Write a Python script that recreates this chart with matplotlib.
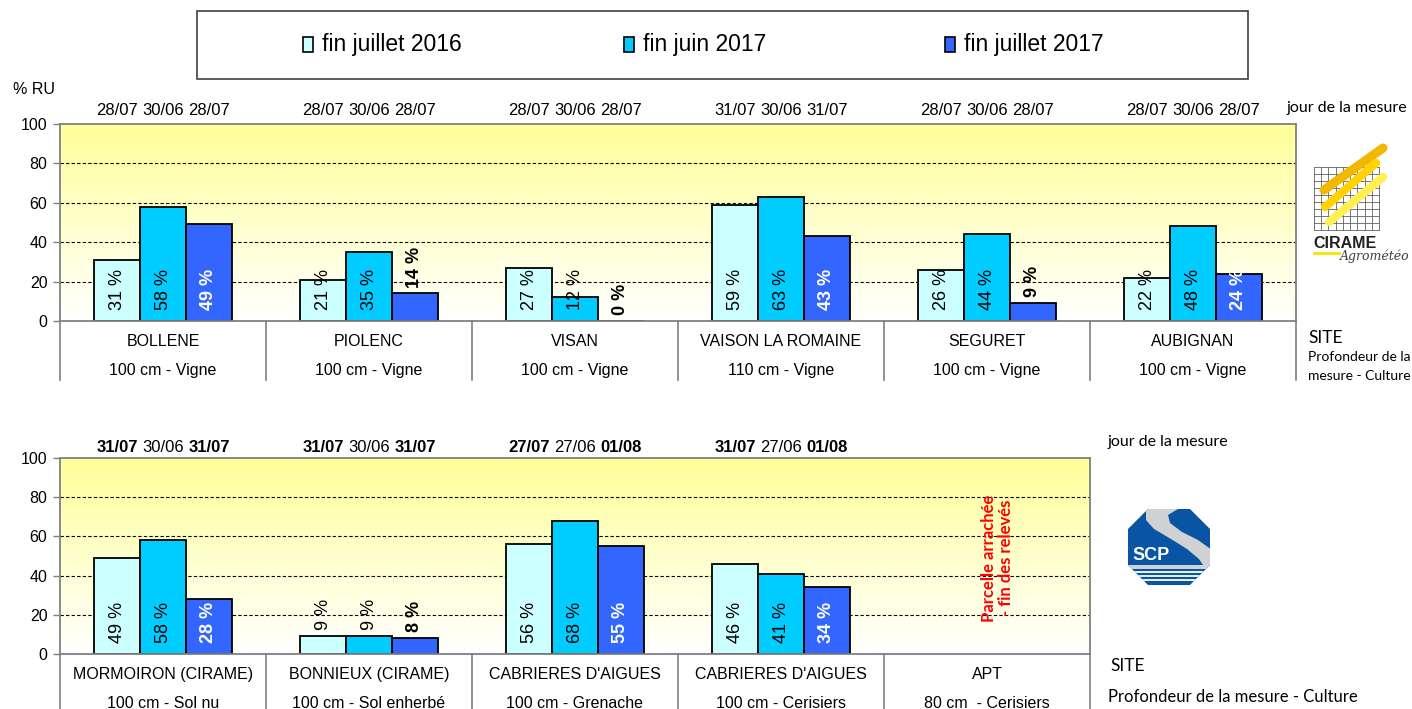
import matplotlib.pyplot as plt
import numpy as np
from matplotlib.patches import Rectangle, Polygon

# donnees - % de la reserve utile
series_labels = ['fin juillet 2016', 'fin juin 2017', 'fin juillet 2017']
series_colors = ['#CCFFFF', '#00CCFF', '#3366FF']

top_sites = ['BOLLENE', 'PIOLENC', 'VISAN', 'VAISON LA ROMAINE', 'SEGURET', 'AUBIGNAN']
top_depths = ['100 cm - Vigne', '100 cm - Vigne', '100 cm - Vigne',
              '110 cm - Vigne', '100 cm - Vigne', '100 cm - Vigne']
top_dates = [['28/07', '30/06', '28/07'], ['28/07', '30/06', '28/07'],
             ['28/07', '30/06', '28/07'], ['31/07', '30/06', '31/07'],
             ['28/07', '30/06', '28/07'], ['28/07', '30/06', '28/07']]
top_jul16 = [31, 21, 27, 59, 26, 22]
top_jun17 = [58, 35, 12, 63, 44, 48]
top_jul17 = [49, 14, 0, 43, 9, 24]

bot_sites = ['MORMOIRON (CIRAME)', 'BONNIEUX (CIRAME)', "CABRIERES D'AIGUES",
             "CABRIERES D'AIGUES", 'APT']
bot_depths = ['100 cm - Sol nu', '100 cm - Sol enherbé', '100 cm - Grenache',
              '100 cm - Cerisiers', '80 cm  - Cerisiers']
bot_dates = [['31/07', '30/06', '31/07'], ['31/07', '30/06', '31/07'],
             ['27/07', '27/06', '01/08'], ['31/07', '27/06', '01/08'],
             ['', '', '']]
bot_jul16 = [49, 9, 56, 46, np.nan]
bot_jun17 = [58, 9, 68, 41, np.nan]
bot_jul17 = [28, 8, 55, 34, np.nan]

W, H = 1412, 709
plt.rcParams['font.family'] = ['Liberation Sans', 'DejaVu Sans']
fig = plt.figure(figsize=(W / 100, H / 100), dpi=100)


def fx(px):
    return px / W


def fy(py):
    return 1 - py / H


def draw_panel(ax, sites, depths, dates, values, bold_dates, table_bottom):
    n = len(sites)
    x = np.arange(n)
    width = 0.223
    ax.set_xlim(-0.5, n - 0.5)
    ax.set_ylim(0, 100)

    # fond degrade jaune -> blanc
    grad = np.ones((256, 1, 3))
    grad[:, 0, 2] = np.linspace(0.6, 1.0, 256)
    ax.imshow(grad, extent=(-0.5, n - 0.5, 0, 100), aspect='auto',
              origin='upper', zorder=0)

    for yv in [20, 40, 60, 80]:
        ax.axhline(yv, color='black', lw=0.8, ls=(0, (3, 2)), zorder=1)

    for k, vals in enumerate(values):
        xs = x + (k - 1) * width
        ax.bar(xs, vals, width, color=series_colors[k], edgecolor='black',
               linewidth=1.3, zorder=2)
        for xi, v in zip(xs, vals):
            if np.isnan(v):
                continue
            dark = (k == 2)
            above = v < 10 or (dark and v < 20)
            if above:
                ypos = v + 3
                col = 'black'
            else:
                ypos = 5.5
                col = 'white' if dark else 'black'
            ax.text(xi, ypos, '%d %%' % v, rotation=90, ha='center', va='bottom',
                    fontsize=13, color=col,
                    fontweight='bold' if dark else 'normal', zorder=3)

    # dates de mesure au-dessus des barres
    for i in range(n):
        for k in range(3):
            ax.text(x[i] + (k - 1) * width, 100 + bold_dates[1], dates[i][k],
                    ha='center', va='center', fontsize=12,
                    fontweight='bold' if (bold_dates[0] and k != 1) else 'normal',
                    clip_on=False)

    # tableau des sites sous l'axe
    for b in np.arange(n + 1) - 0.5:
        ax.plot([b, b], [0, table_bottom], color='#808080', lw=1.2,
                clip_on=False, zorder=1)
    for i in range(n):
        ax.text(x[i], -10.5, sites[i], ha='center', va='center', fontsize=11.5,
                clip_on=False)
        ax.text(x[i], -25, depths[i], ha='center', va='center', fontsize=11.5,
                clip_on=False)

    ax.set_xticks([])
    ax.set_yticks([0, 20, 40, 60, 80, 100])
    ax.tick_params(axis='y', length=5, width=1, color='#808080', labelsize=11.5,
                   pad=4)
    for s in ax.spines.values():
        s.set_color('#808080')
        s.set_linewidth(1.3)


ax1 = fig.add_axes([fx(60), fy(321), fx(1296 - 60), (321 - 124) / H])
draw_panel(ax1, top_sites, top_depths, top_dates,
           [top_jul16, top_jun17, top_jul17], (False, 7), -30)

ax2 = fig.add_axes([fx(60), fy(654), fx(1090 - 60), (654 - 458) / H])
draw_panel(ax2, bot_sites, bot_depths, bot_dates,
           [bot_jul16, bot_jun17, bot_jul17], (True, 5.5), -30)
ax2.text(4.05, 49, 'Parcelle arrachée\n- fin des relevés', rotation=90,
         ha='center', va='center', multialignment='center', color='red',
         fontsize=12, fontweight='bold', family=['Lato', 'DejaVu Sans'],
         linespacing=1.05, zorder=3)

# textes autour des graphes
fig.text(fx(13), fy(89), '% RU', ha='left', va='center', fontsize=11.5)
cal = ['Lato', 'DejaVu Sans']
fig.text(fx(1287), fy(108), 'jour de la mesure', ha='left', va='center',
         fontsize=11.5, family=cal)
fig.text(fx(1308), fy(338), 'SITE', ha='left', va='center', fontsize=12.5, family=cal)
fig.text(fx(1308), fy(357), 'Profondeur de la', ha='left', va='center',
         fontsize=10, family=cal)
fig.text(fx(1308), fy(376), 'mesure - Culture', ha='left', va='center',
         fontsize=10, family=cal)
fig.text(fx(1108), fy(442), 'jour de la mesure', ha='left', va='center',
         fontsize=11.5, family=cal)
fig.text(fx(1110), fy(666), 'SITE', ha='left', va='center', fontsize=12.5, family=cal)
fig.text(fx(1108), fy(697), 'Profondeur de la mesure - Culture', ha='left',
         va='center', fontsize=12, family=cal)

# legende (cadre + entrees)
deco = fig.add_axes([0, 0, 1, 1], zorder=5)
deco.set_xlim(0, W)
deco.set_ylim(H, 0)
deco.axis('off')
deco.add_patch(Rectangle((197, 11), 1051, 68, fill=False, edgecolor='#404040', lw=1.2))
for k, lab in enumerate(series_labels):
    x0 = 303 + k * 321
    deco.add_patch(Rectangle((x0, 37), 10, 15, facecolor=series_colors[k],
                             edgecolor='black', lw=1.2))
    deco.text(x0 + 19, 44, lab, ha='left', va='center', fontsize=16.5)

# logo CIRAME
for g in np.linspace(1314, 1379, 10):
    deco.plot([g, g], [167, 230], color='#606060', lw=0.6)
for g in np.linspace(167, 230, 10):
    deco.plot([1314, 1379], [g, g], color='#606060', lw=0.6)
deco.plot([1324, 1383], [190, 148], color='#F2B800', lw=6.5, solid_capstyle='round')
deco.plot([1325, 1376], [207, 163], color='#FFD200', lw=6, solid_capstyle='round')
deco.plot([1329, 1383], [222, 177], color='#FFF050', lw=6, solid_capstyle='round')
deco.text(1313, 243, 'CIRAME', ha='left', va='center', fontsize=11.5,
          fontweight='bold', color='#202020')
deco.plot([1314, 1339], [253, 253], color='#FFE000', lw=2)
deco.text(1340, 256, 'Agrométéo', ha='left', va='center', fontsize=9,
          style='italic', family='DejaVu Serif', color='#404040')

# logo SCP
c = 20
octo = Polygon([(1128 + c, 509), (1210 - c, 509), (1210, 509 + c), (1210, 585 - c),
                (1210 - c, 585), (1128 + c, 585), (1128, 585 - c), (1128, 509 + c)],
               closed=True, facecolor='#0A55A3', edgecolor='none')
deco.add_patch(octo)
band = Polygon([(1146, 509), (1146, 520), (1154, 529), (1171, 539), (1187, 549),
                (1199, 559), (1203, 565), (1128, 565), (1128, 569), (1212, 569),
                (1212, 550), (1198, 540), (1182, 532), (1170, 523), (1168, 515),
                (1178, 509)],
               closed=True, facecolor='#CFD1D3', edgecolor='none')
deco.add_patch(band)
band.set_clip_path(octo)
for yy in [571.5, 575.5, 579.5]:
    ln, = deco.plot([1128, 1210], [yy, yy], color='white', lw=1.3)
    ln.set_clip_path(octo)
deco.text(1151, 555, 'SCP', ha='center', va='center', fontsize=13,
          fontweight='bold', color='white')

fig.savefig('out.png', dpi=100)
